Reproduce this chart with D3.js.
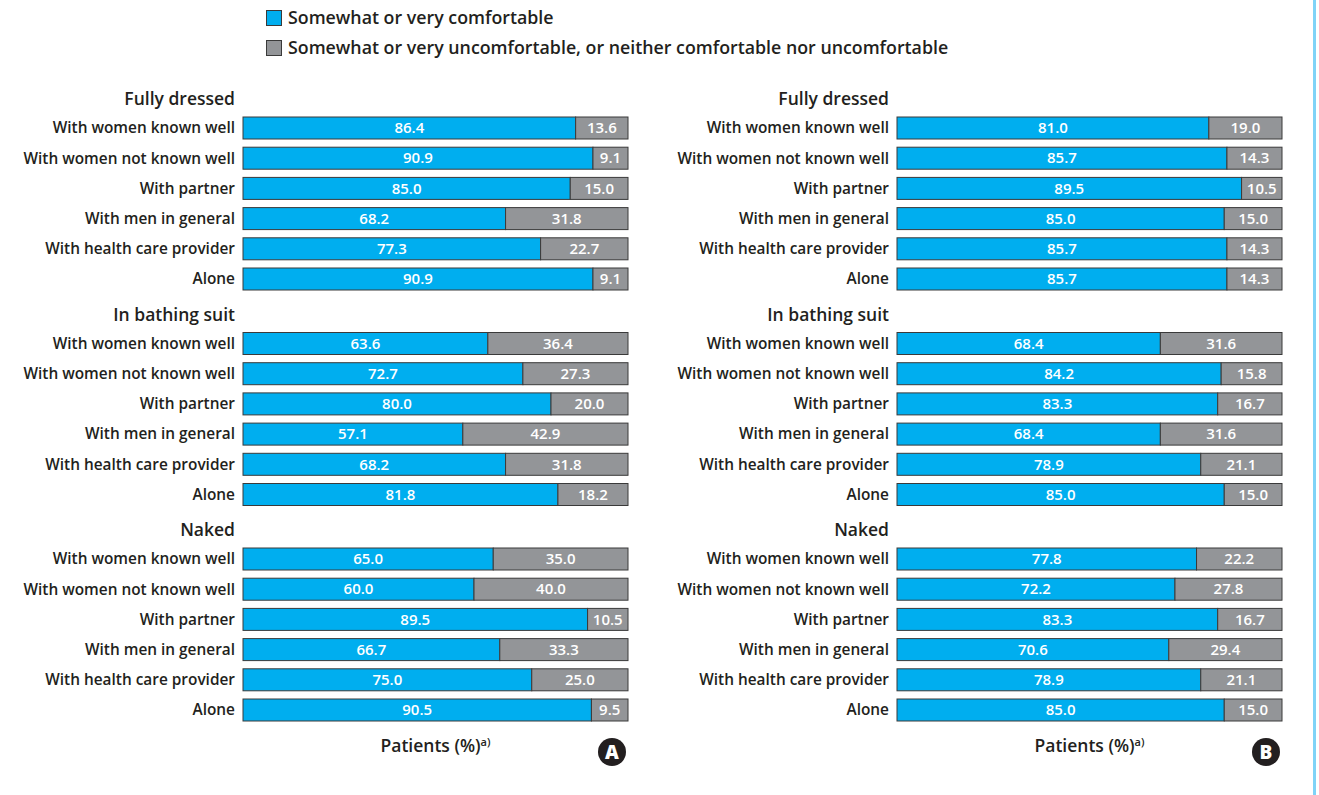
<!DOCTYPE html>
<html>
<head>
<meta charset="utf-8">
<script src="https://cdn.jsdelivr.net/npm/d3@7"></script>
<style>
  body { margin: 0; background: #fff; }
  svg text { font-family: "Open Sans", "DejaVu Sans", sans-serif; fill: #231f20; }
</style>
</head>
<body>
<div id="chart"></div>
<script>
// categories
var groups = ["Fully dressed", "In bathing suit", "Naked"];
var rows = ["With women known well", "With women not known well", "With partner",
            "With men in general", "With health care provider", "Alone"];
var legendLabels = ["Somewhat or very comfortable",
                    "Somewhat or very uncomfortable, or neither comfortable nor uncomfortable"];

// panel A values (per group, per row)
var comfA = [[86.4, 90.9, 85.0, 68.2, 77.3, 90.9],
             [63.6, 72.7, 80.0, 57.1, 68.2, 81.8],
             [65.0, 60.0, 89.5, 66.7, 75.0, 90.5]];
var uncomfA = [[13.6, 9.1, 15.0, 31.8, 22.7, 9.1],
               [36.4, 27.3, 20.0, 42.9, 31.8, 18.2],
               [35.0, 40.0, 10.5, 33.3, 25.0, 9.5]];

// panel B values
var comfB = [[81.0, 85.7, 89.5, 85.0, 85.7, 85.7],
             [68.4, 84.2, 83.3, 68.4, 78.9, 85.0],
             [77.8, 72.2, 83.3, 70.6, 78.9, 85.0]];
var uncomfB = [[19.0, 14.3, 10.5, 15.0, 14.3, 14.3],
               [31.6, 15.8, 16.7, 31.6, 21.1, 15.0],
               [22.2, 27.8, 16.7, 29.4, 21.1, 15.0]];

var panelLetters = ["A", "B"];

var width = 1319, height = 795;
var blue = "#00aeef", grey = "#939598", edge = "#3a3a3a";

var svg = d3.select("#chart").append("svg")
  .attr("width", width).attr("height", height);

// legend
var legend = svg.append("g").attr("transform", "translate(266,10)");
legendLabels.forEach(function(t, i) {
  legend.append("rect")
    .attr("x", 0.5).attr("y", i * 30 + 0.5)
    .attr("width", 15).attr("height", 15)
    .attr("fill", i == 0 ? blue : grey)
    .attr("stroke", edge).attr("stroke-width", 1);
  legend.append("text")
    .attr("x", 22).attr("y", i * 30 + 8)
    .attr("dy", "0.35em")
    .style("font-size", "17.8px").style("font-weight", 600)
    .text(t);
});

// right edge line
svg.append("line")
  .attr("x1", 1314.5).attr("x2", 1314.5)
  .attr("y1", 0).attr("y2", height)
  .attr("stroke", "#7fd3f7").attr("stroke-width", 3);

// vertical layout shared by both panels
var groupY = d3.scaleLinear().domain([0, 1]).range([128, 343.5]);
var rowY = d3.scaleLinear().domain([0, 1]).range([0, 30.2]);
var barH = 22;

function drawPanel(x0, comf, uncomf, letter) {
  var g = svg.append("g").attr("transform", "translate(" + x0 + ",0)");
  var x = d3.scaleLinear().domain([0, 100]).range([0, 385]);

  groups.forEach(function(gr, gi) {
    g.append("text")
      .attr("x", -8).attr("y", groupY(gi) - 29)
      .attr("dy", "0.35em")
      .attr("text-anchor", "end")
      .style("font-size", "17.5px").style("font-weight", 600)
      .text(gr);

    var data = rows.map(function(r, ri) {
      return {label: r, c: comf[gi][ri], u: uncomf[gi][ri], y: groupY(gi) + rowY(ri)};
    });

    var row = g.selectAll(".row" + gi)
      .data(data).enter().append("g")
      .attr("class", "row" + gi);

    row.append("text")
      .attr("x", -8).attr("y", function(d) { return d.y; })
      .attr("dy", "0.35em")
      .attr("text-anchor", "end")
      .style("font-size", "15.4px").style("font-weight", 600)
      .text(function(d) { return d.label; });

    row.append("rect")
      .attr("x", x(0)).attr("y", function(d) { return d.y - barH / 2; })
      .attr("width", function(d) { return x(d.c); })
      .attr("height", barH)
      .attr("fill", blue).attr("stroke", edge).attr("stroke-width", 1);

    row.append("rect")
      .attr("x", function(d) { return x(d.c); })
      .attr("y", function(d) { return d.y - barH / 2; })
      .attr("width", function(d) { return x(d.u); })
      .attr("height", barH)
      .attr("fill", grey).attr("stroke", edge).attr("stroke-width", 1);

    row.append("text")
      .attr("x", function(d) { return x(d.c / 2); })
      .attr("y", function(d) { return d.y; })
      .attr("dy", "0.35em")
      .attr("text-anchor", "middle")
      .style("font-size", "15px").style("font-weight", 600)
      .style("fill", "#fff")
      .text(function(d) { return d.c.toFixed(1); });

    row.append("text")
      .attr("x", function(d) { return x(d.c + d.u / 2); })
      .attr("y", function(d) { return d.y; })
      .attr("dy", "0.35em")
      .attr("text-anchor", "middle")
      .style("font-size", "15px").style("font-weight", 600)
      .style("fill", "#fff")
      .text(function(d) { return d.u.toFixed(1); });
  });

  // axis title
  var t = g.append("text")
    .attr("x", x(50)).attr("y", 746)
    .attr("dy", "0.35em")
    .attr("text-anchor", "middle")
    .style("font-size", "17.5px").style("font-weight", 600);
  t.append("tspan").text("Patients (%)");
  t.append("tspan").attr("dy", "-6").style("font-size", "11px").text("a)");

  // panel letter
  g.append("circle")
    .attr("cx", x(100) - 16).attr("cy", 752).attr("r", 14)
    .attr("fill", "#231f20");
  g.append("text")
    .attr("x", x(100) - 16).attr("y", 752)
    .attr("dy", "0.36em")
    .attr("text-anchor", "middle")
    .style("font-size", "19px").style("font-weight", 800)
    .style("fill", "#fff")
    .text(letter);
}

drawPanel(243, comfA, uncomfA, panelLetters[0]);
drawPanel(897, comfB, uncomfB, panelLetters[1]);
</script>
</body>
</html>
